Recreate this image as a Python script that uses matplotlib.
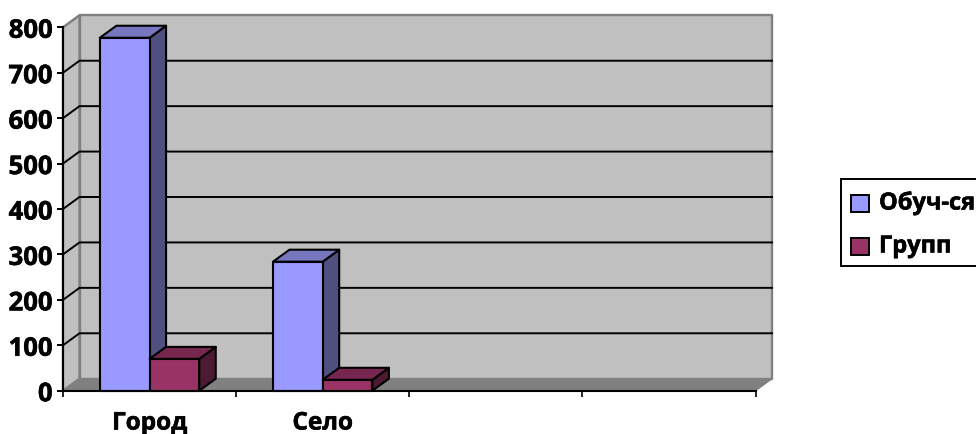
import matplotlib
matplotlib.use("Agg")
import matplotlib.pyplot as plt
from matplotlib.patches import Polygon, Rectangle
import matplotlib.patheffects as pe

plt.rcParams['font.family'] = ['Open Sans', 'DejaVu Sans']

categories = ["Город", "Село"]
series_names = ["Обуч-ся", "Групп"]
students = [777, 284]
groups = [70, 24]
y_ticks = [0, 100, 200, 300, 400, 500, 600, 700, 800]
x_ticks = [0, 1, 2, 3, 4]

W, H = 976, 435
L, R, T, B = 63.0, 755.5, 28.3, 391.7
fig = plt.figure(figsize=(W / 100, H / 100), dpi=100)
ax = fig.add_axes([L / W, 1 - B / H, (R - L) / W, (B - T) / H])
ax.set_xlim(0, 4)
ax.set_ylim(0, 800)
for s in ['top', 'right']:
    ax.spines[s].set_visible(False)
for s in ['left', 'bottom']:
    ax.spines[s].set_linewidth(1.5)
    ax.spines[s].set_zorder(20)
ax.patch.set_visible(False)

dx = 16.5 / ((R - L) / 4)
dy = 12 / ((B - T) / 800)
edge = "#808080"
heavy = [pe.withStroke(linewidth=0.4, foreground='black')]


def poly(pts, fc, ec, lw, z):
    ax.add_patch(Polygon(pts, closed=True, facecolor=fc, edgecolor=ec,
                         linewidth=lw, zorder=z, clip_on=False, joinstyle='round'))


poly([(dx, dy), (4 + dx, dy), (4 + dx, 800 + dy), (dx, 800 + dy)], "#C0C0C0", edge, 1.7, 1)
poly([(0, 0), (dx, dy), (dx, 800 + dy), (0, 800)], "#C0C0C0", edge, 1.7, 1)
poly([(0, 0), (4, 0), (4 + dx, dy), (dx, dy)], "#808080", edge, 1.0, 2)

for v in y_ticks[1:-1]:
    ax.plot([0, dx, 4 + dx], [v, v + dy, v + dy], color="black", lw=1.4,
            zorder=3, clip_on=False, solid_joinstyle='miter')
ax.plot([0, dx], [800, 800 + dy], color=edge, lw=1.3, zorder=3, clip_on=False)


def bar3d(x0, width, h, front, top, side, z):
    x1 = x0 + width
    poly([(x1, 0), (x1 + dx, dy), (x1 + dx, h + dy), (x1, h)], side, "black", 1.5, z)
    poly([(x0, h), (x1, h), (x1 + dx, h + dy), (x0 + dx, h + dy)], top, "black", 1.5, z)
    poly([(x0, 0), (x1, 0), (x1, h), (x0, h)], front, "black", 1.5, z + 0.1)


bw = 0.287
for i in range(len(categories)):
    c = i + 0.5
    bar3d(c - bw, bw, students[i], "#9999FF", "#7777C0", "#4F4F80", 5 + i)
    bar3d(c, bw, groups[i], "#993366", "#772650", "#4D1A33", 5.5 + i)

ax.set_yticks(y_ticks)
ax.set_xticks(x_ticks)
ax.set_xticklabels([])
ax.set_xticks([i + 0.5 for i in range(len(categories))], minor=True)
ax.set_xticklabels(categories, minor=True, fontsize=17.5, fontweight='bold', path_effects=heavy)
ax.tick_params(axis='x', which='minor', length=0, pad=15)
ax.tick_params(axis='x', which='major', length=4, width=1.2, color='black')
ax.tick_params(axis='y', length=4.5, width=1.4, pad=3)
for t in ax.get_yticklabels():
    t.set_fontsize(18.5)
    t.set_fontweight('bold')
    t.set_path_effects(heavy)

# legend (box runs past the right edge of the figure, as in the reference)
fig.add_artist(Rectangle((840.5 / W, 1 - 267 / H), 160 / W, 87 / H, transform=fig.transFigure,
                         facecolor='white', edgecolor='black', linewidth=1.4))
for name, col, yc in zip(series_names, ["#9999FF", "#993366"], [204, 247]):
    fig.add_artist(Rectangle((850.5 / W, 1 - (yc + 9) / H), 18 / W, 17 / H, transform=fig.transFigure,
                             facecolor=col, edgecolor='black', linewidth=1.4))
    fig.text(879 / W, 1 - (yc + 0.5) / H, name, fontsize=17, fontweight='bold',
             va='center', ha='left', path_effects=heavy)

fig.savefig("out.png", dpi=100)
